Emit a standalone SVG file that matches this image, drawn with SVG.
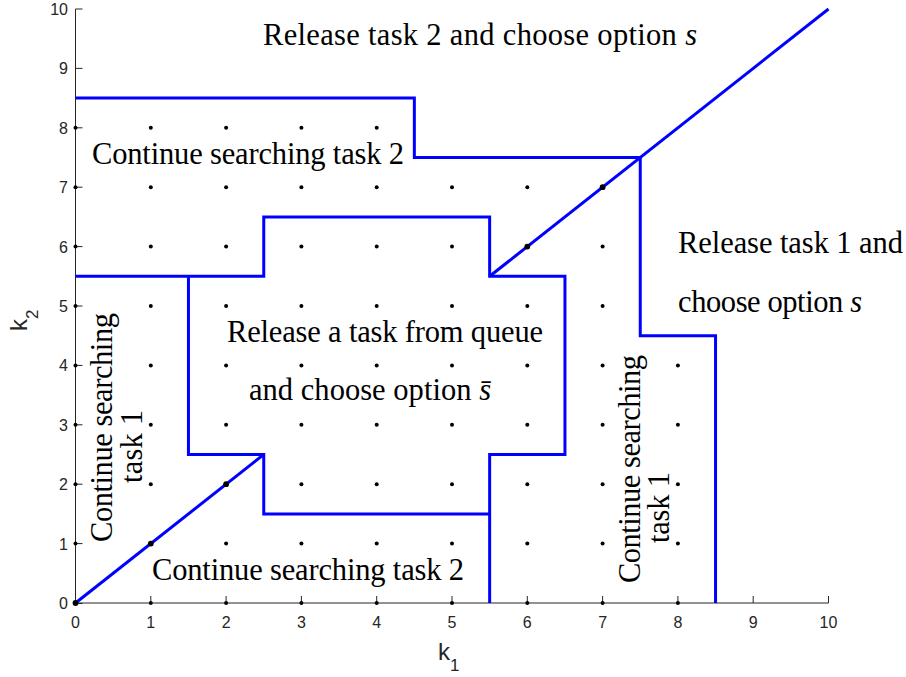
<svg xmlns="http://www.w3.org/2000/svg" xmlns:xlink="http://www.w3.org/1999/xlink" width="906" height="677" viewBox="0 0 906 677">
<style>
.ax{stroke:#262626;stroke-width:1;fill:none}
.tk{font-family:"Liberation Sans",Arial,sans-serif;font-size:16px;fill:#262626}
.lab{font-family:"Liberation Sans",Arial,sans-serif;font-size:24px;fill:#262626}
.bl{stroke:#0000ff;stroke-width:3;fill:none;stroke-linejoin:miter}
.d{fill:#000}
.t{font-family:"Liberation Serif","Times New Roman",serif;font-size:30.5px;fill:#000}
.it{font-style:italic}
</style>
<defs>
<circle id="dot" r="2" class="d"/>
<circle id="bdot" r="2.9" class="d"/>
</defs>
<rect x="0" y="0" width="906" height="677" fill="#fff"/>
<g id="axes">
<path class="ax" d="M75.5,9 V603 H828.5"/>
<path class="ax" d="M75.5,603.5h7M75.5,543.6h7M75.5,484.2h7M75.5,424.8h7M75.5,365.4h7M75.5,306h7M75.5,246.6h7M75.5,187.2h7M75.5,127.8h7M75.5,68.4h7M75.5,9h7"/>
<path class="ax" d="M75.5,603v-7M150.8,603v-7M226.1,603v-7M301.4,603v-7M376.7,603v-7M452,603v-7M527.3,603v-7M602.6,603v-7M677.9,603v-7M753.2,603v-7M828.5,603v-7"/>
<g class="tk" text-anchor="end">
<text x="68" y="609">0</text><text x="68" y="549.6">1</text><text x="68" y="490.2">2</text><text x="68" y="430.8">3</text><text x="68" y="371.4">4</text><text x="68" y="312">5</text><text x="68" y="252.6">6</text><text x="68" y="193.2">7</text><text x="68" y="133.8">8</text><text x="68" y="74.4">9</text><text x="68" y="15">10</text>
</g>
<g class="tk" text-anchor="middle">
<text x="75.5" y="628">0</text><text x="150.8" y="628">1</text><text x="226.1" y="628">2</text><text x="301.4" y="628">3</text><text x="376.7" y="628">4</text><text x="452" y="628">5</text><text x="527.3" y="628">6</text><text x="602.6" y="628">7</text><text x="677.9" y="628">8</text><text x="753.2" y="628">9</text><text x="828.5" y="628">10</text>
</g>
<text class="lab" x="438" y="660">k<tspan font-size="17" dy="11">1</tspan></text>
<text class="lab" transform="translate(27,331) rotate(-90)">k<tspan font-size="17" dy="11">2</tspan></text>
</g>
<g id="connectors">
<path class="bl" d="M75.5,603 L263.75,454.5"/>
<path class="bl" d="M489.65,276.3 L828.5,9"/>
<path class="bl" d="M75.5,98.1 H414.35 V157.5 H640.25 V335.7 H715.55 V603"/>
<path class="bl" d="M75.5,276.3 H263.75 V216.9 H489.65 V276.3 H564.95 V454.5 H489.65 V603"/>
<path class="bl" d="M188.45,276.3 V454.5 H263.75 V513.9 H489.65"/>
</g>
<g id="grid-dots">
<g id="row0"><use href="#dot" x="75.5" y="603"/><use href="#dot" x="150.8" y="603"/><use href="#dot" x="226.1" y="603"/><use href="#dot" x="301.4" y="603"/><use href="#dot" x="376.7" y="603"/><use href="#dot" x="452" y="603"/><use href="#dot" x="527.3" y="603"/><use href="#dot" x="602.6" y="603"/><use href="#dot" x="677.9" y="603"/></g>
<g id="row1"><use href="#dot" x="75.5" y="543.6"/><use href="#dot" x="226.1" y="543.6"/><use href="#dot" x="301.4" y="543.6"/><use href="#dot" x="376.7" y="543.6"/><use href="#dot" x="452" y="543.6"/><use href="#dot" x="527.3" y="543.6"/><use href="#dot" x="602.6" y="543.6"/><use href="#dot" x="677.9" y="543.6"/></g>
<g id="row2"><use href="#dot" x="75.5" y="484.2"/><use href="#dot" x="150.8" y="484.2"/><use href="#dot" x="301.4" y="484.2"/><use href="#dot" x="376.7" y="484.2"/><use href="#dot" x="452" y="484.2"/><use href="#dot" x="527.3" y="484.2"/><use href="#dot" x="602.6" y="484.2"/><use href="#dot" x="677.9" y="484.2"/></g>
<g id="row3"><use href="#dot" x="75.5" y="424.8"/><use href="#dot" x="150.8" y="424.8"/><use href="#dot" x="226.1" y="424.8"/><use href="#dot" x="301.4" y="424.8"/><use href="#dot" x="376.7" y="424.8"/><use href="#dot" x="452" y="424.8"/><use href="#dot" x="527.3" y="424.8"/><use href="#dot" x="602.6" y="424.8"/><use href="#dot" x="677.9" y="424.8"/></g>
<g id="row4"><use href="#dot" x="75.5" y="365.4"/><use href="#dot" x="150.8" y="365.4"/><use href="#dot" x="226.1" y="365.4"/><use href="#dot" x="301.4" y="365.4"/><use href="#dot" x="376.7" y="365.4"/><use href="#dot" x="452" y="365.4"/><use href="#dot" x="527.3" y="365.4"/><use href="#dot" x="602.6" y="365.4"/><use href="#dot" x="677.9" y="365.4"/></g>
<g id="row5"><use href="#dot" x="75.5" y="306"/><use href="#dot" x="150.8" y="306"/><use href="#dot" x="226.1" y="306"/><use href="#dot" x="301.4" y="306"/><use href="#dot" x="376.7" y="306"/><use href="#dot" x="452" y="306"/><use href="#dot" x="527.3" y="306"/><use href="#dot" x="602.6" y="306"/></g>
<g id="row6"><use href="#dot" x="75.5" y="246.6"/><use href="#dot" x="150.8" y="246.6"/><use href="#dot" x="226.1" y="246.6"/><use href="#dot" x="301.4" y="246.6"/><use href="#dot" x="376.7" y="246.6"/><use href="#dot" x="452" y="246.6"/><use href="#dot" x="602.6" y="246.6"/></g>
<g id="row7"><use href="#dot" x="75.5" y="187.2"/><use href="#dot" x="150.8" y="187.2"/><use href="#dot" x="226.1" y="187.2"/><use href="#dot" x="301.4" y="187.2"/><use href="#dot" x="376.7" y="187.2"/><use href="#dot" x="452" y="187.2"/><use href="#dot" x="527.3" y="187.2"/></g>
<g id="row8"><use href="#dot" x="75.5" y="127.8"/><use href="#dot" x="150.8" y="127.8"/><use href="#dot" x="226.1" y="127.8"/><use href="#dot" x="301.4" y="127.8"/><use href="#dot" x="376.7" y="127.8"/></g>
<g id="diag-dots"><use href="#bdot" x="75.5" y="603"/><use href="#bdot" x="150.8" y="543.6"/><use href="#bdot" x="226.1" y="484.2"/><use href="#bdot" x="527.3" y="246.6"/><use href="#bdot" x="602.6" y="187.2"/></g>
</g>
<g id="region-release-task2">
<text class="t" x="263" y="45" textLength="434" lengthAdjust="spacing">Release task 2 and choose option <tspan class="it">s</tspan></text>
</g>
<g id="region-continue-task2-top">
<text class="t" x="92" y="164" textLength="312" lengthAdjust="spacing">Continue searching task 2</text>
</g>
<g id="region-release-task1">
<text class="t" x="678" y="253" textLength="225" lengthAdjust="spacing">Release task 1 and</text>
<text class="t" x="678" y="312" textLength="184" lengthAdjust="spacing">choose option <tspan class="it">s</tspan></text>
</g>
<g id="region-release-queue">
<text class="t" x="227" y="342" textLength="316" lengthAdjust="spacing">Release a task from queue</text>
<text class="t" x="249" y="400" textLength="242" lengthAdjust="spacing">and choose option <tspan class="it">s̄</tspan></text>
</g>
<g id="region-continue-task2-bottom">
<text class="t" x="152" y="580" textLength="312" lengthAdjust="spacing">Continue searching task 2</text>
</g>
<g id="region-continue-task1-left">
<text class="t" transform="translate(112,542) rotate(-90)" textLength="229" lengthAdjust="spacing">Continue searching</text>
<text class="t" transform="translate(142,483) rotate(-90)" textLength="73" lengthAdjust="spacing">task 1</text>
</g>
<g id="region-continue-task1-right">
<text class="t" transform="translate(640,583) rotate(-90)" textLength="228" lengthAdjust="spacing">Continue searching</text>
<text class="t" transform="translate(669,543) rotate(-90)" textLength="71" lengthAdjust="spacing">task 1</text>
</g>
</svg>
